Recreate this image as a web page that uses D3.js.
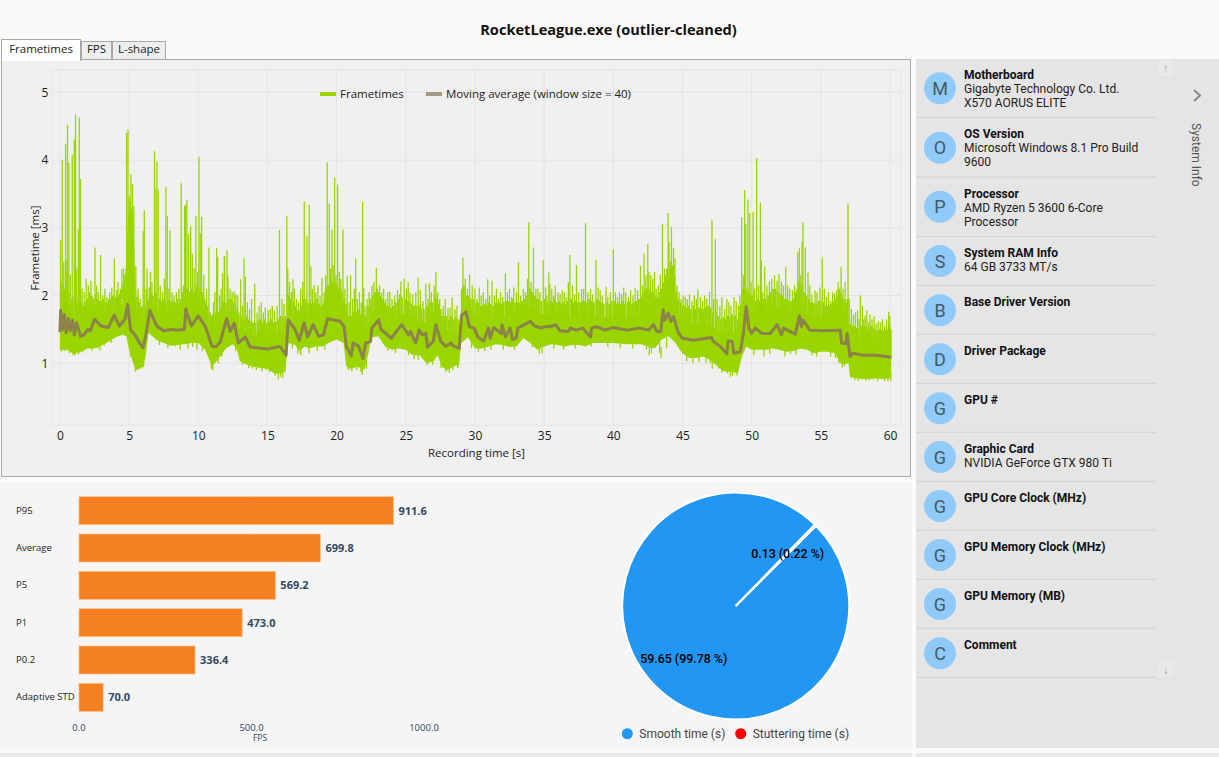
<!DOCTYPE html>
<html>
<head>
<meta charset="utf-8">
<script src="https://cdn.jsdelivr.net/npm/d3@7"></script>
<style>
body { margin: 0; background: #fafafa; overflow: hidden; }
text { font-family: "Open Sans", sans-serif; }
.rb text, text.rb { font-family: Roboto, sans-serif; }
</style>
</head>
<body>
<div id="chart"></div>
<script>
// frametime chart: dense band
var bandTimes = [0,0.5,1,1.5,2,2.5,3,3.5,4,4.5,4.8,5,5.3,5.5,6,6.2,6.4,7,7.5,8,8.5,9,9.5,10,10.5,11,11.5,12,12.5,12.8,13,13.5,14,14.5,15,15.5,16,16.3,16.5,17,17.3,17.7,18,18.5,19,19.4,20,20.5,20.7,21,21.5,22,22.3,22.5,23,23.5,24,24.5,25,25.5,26,26.5,27,27.3,27.6,28,28.5,28.85,29,29.5,30,30.5,31,31.5,32,32.5,33,33.5,34,34.5,35,35.5,36,36.5,37,37.5,38,38.5,39,39.5,40,41,42,42.5,43,43.5,44,44.5,44.8,45,45.5,46,46.5,47,47.5,48,48.5,49,49.3,49.6,50,50.5,51,51.5,52,52.5,53,53.5,54,54.5,55,55.5,56,56.5,57,57.1,57.5,58,58.5,59,59.5,60.08];
var bandHigh = [2.1,1.9,1.72,1.68,1.72,1.8,1.74,1.72,1.78,1.85,2.5,3.5,3.1,1.8,1.62,1.85,1.95,1.8,1.74,1.72,1.76,2.0,1.92,1.95,1.72,1.5,1.52,1.75,1.76,1.62,1.48,1.46,1.42,1.44,1.45,1.44,1.46,1.45,1.8,1.66,1.56,1.76,1.68,1.72,1.64,2.0,1.95,1.8,1.66,1.44,1.5,1.45,1.6,1.75,1.8,1.72,1.62,1.72,1.72,1.66,1.62,1.6,1.74,1.7,1.52,1.46,1.46,1.42,1.85,1.82,1.72,1.66,1.64,1.68,1.68,1.7,1.68,1.75,1.85,1.76,1.72,1.72,1.72,1.68,1.66,1.66,1.7,1.7,1.68,1.68,1.66,1.66,1.7,1.74,1.72,1.85,2.25,2.0,1.68,1.62,1.58,1.58,1.58,1.6,1.48,1.44,1.46,1.44,1.5,1.8,1.76,1.72,1.76,1.85,1.8,1.7,1.72,1.9,1.72,1.68,1.7,1.65,1.72,1.75,1.55,1.38,1.34,1.34,1.33,1.32,1.32,1.34];
var bandLow = [1.2,1.2,1.14,1.17,1.22,1.22,1.26,1.32,1.38,1.42,1.4,1.2,1.0,0.9,0.95,1.1,1.45,1.34,1.3,1.26,1.27,1.28,1.3,1.3,1.2,0.95,1.08,1.22,1.28,1.2,1.03,0.98,0.95,0.93,0.92,0.85,0.85,0.9,1.3,1.27,1.18,1.25,1.22,1.25,1.25,1.3,1.35,1.3,0.95,0.92,0.95,0.9,1.15,1.38,1.4,1.25,1.2,1.22,1.2,1.12,1.12,1.0,1.03,1.12,0.95,0.9,0.96,0.97,1.3,1.38,1.22,1.22,1.25,1.28,1.27,1.24,1.25,1.37,1.3,1.2,1.25,1.28,1.27,1.25,1.27,1.27,1.25,1.3,1.3,1.3,1.3,1.28,1.28,1.25,1.22,1.35,1.4,1.3,1.2,1.15,1.08,1.08,1.1,1.05,0.96,0.88,0.88,0.85,1.1,1.25,1.2,1.2,1.2,1.22,1.2,1.17,1.18,1.22,1.2,1.15,1.17,1.17,1.15,0.98,1.0,0.8,0.78,0.77,0.77,0.78,0.77,0.78];

// tall isolated frametime spikes [time, ms]
var tallSpikes = [[0.05,2.82],[0.17,4.0],[0.41,4.24],[0.5,2.53],[0.55,4.52],[0.65,3.96],[0.89,4.08],[1.04,4.3],[1.13,4.67],[1.33,2.97],[1.4,4.63],[1.49,3.72],[2.24,2.22],[2.53,2.71],[2.94,2.6],[3.93,2.55],[4.48,2.39],[4.82,4.4],[4.92,4.45],[5.13,3.79],[5.25,3.65],[5.35,3.32],[5.49,2.44],[6.02,2.95],[6.1,3.26],[6.84,4.13],[6.87,3.59],[7.01,3.98],[7.1,3.56],[7.66,3.6],[7.76,3.17],[7.95,2.96],[8.77,3.66],[9.01,3.32],[9.08,3.34],[9.18,3.41],[9.3,2.91],[9.45,3.02],[9.57,2.62],[9.83,3.18],[10.05,4.05],[10.14,2.92],[10.24,3.16],[10.77,2.71],[11.33,2.7],[11.4,2.57],[11.76,2.33],[11.88,2.58],[11.91,2.58],[12.08,2.67],[12.15,2.28],[12.6,2.06],[13.07,2.24],[13.31,2.55],[13.4,2.28],[14.08,2.18],[15.87,2.97],[16.4,3.18],[16.47,2.4],[16.84,2.24],[17.66,3.39],[17.85,2.88],[18.02,3.34],[18.14,2.43],[18.38,2.16],[18.94,2.26],[19.32,3.97],[19.47,3.36],[19.66,2.97],[19.86,3.74],[20.07,3.64],[20.2,2.35],[20.46,2.97],[20.77,2.29],[21.01,2.3],[21.38,2.55],[21.88,3.38],[21.96,2.11],[22.87,2.41],[23.84,2.06],[24.64,2.21],[24.88,2.25],[25.17,2.2],[25.72,2.05],[25.89,2.27],[26.45,2.17],[26.71,2.18],[27.17,2.35],[29.13,2.56],[29.61,2.31],[30.31,2.12],[30.92,2.24],[31.23,2.22],[32.2,2.33],[33.14,2.49],[33.89,3.08],[34.23,2.71],[34.93,2.53],[35.34,2.34],[35.41,2.17],[35.8,2.15],[36.86,2.6],[37.34,2.45],[37.99,3.07],[38.74,2.53],[39.47,2.13],[40.0,2.68],[40.75,2.12],[41.57,2.11],[41.96,2.44],[42.22,2.62],[42.49,2.76],[42.56,2.35],[42.98,2.35],[43.55,3.06],[43.96,3.22],[44.03,2.8],[44.2,3.01],[44.35,2.7],[44.45,2.55],[46.11,2.09],[47.13,3.12],[47.37,2.83],[49.28,3.16],[49.49,3.56],[49.57,3.06],[49.73,3.42],[49.86,3.22],[50.1,3.23],[50.36,4.03],[50.63,3.37],[50.7,2.52],[50.94,2.43],[51.28,2.21],[51.83,2.22],[51.98,2.32],[52.46,2.42],[53.33,2.64],[53.45,2.7],[53.64,2.79],[53.71,3.08],[53.88,2.71],[54.07,2.34],[54.58,2.08],[54.93,2.12],[55.1,2.55],[56.0,2.03],[56.46,2.42],[56.96,3.36],[57.85,2.0],[59.9,1.76]];

// short spikes that roughen the top of the band [time, ms]
var shortSpikes = [[0.28,2.5],[0.75,2.3],[1.22,2.4],[1.6,2.1],[1.75,2.05],[1.9,2.25],[2.05,2.15],[2.15,2.05],[2.35,2.0],[2.65,2.15],[2.78,2.05],[3.1,2.0],[3.25,2.1],[3.4,1.98],[3.6,2.05],[3.75,2.12],[4.1,2.08],[4.2,2.2],[4.3,2.02],[4.6,2.4],[5.65,2.1],[5.8,1.95],[6.3,2.4],[6.55,2.35],[6.65,2.2],[7.25,2.15],[7.4,2.05],[7.55,2.25],[7.88,2.1],[8.1,2.05],[8.25,2.0],[8.42,2.05],[8.6,2.1],[9.7,2.4],[9.95,2.35],[10.4,2.3],[10.6,2.1],[11.1,1.9],[11.2,2.05],[11.55,2.0],[11.65,2.1],[12.3,2.1],[12.45,2.05],[12.72,2.02],[12.85,2.0],[13.2,1.85],[13.55,1.9],[13.7,1.8],[13.85,1.95],[14.25,1.75],[14.4,1.85],[14.55,1.9],[14.7,1.75],[14.85,1.82],[15.05,1.78],[15.2,1.8],[15.35,1.85],[15.5,1.78],[15.7,1.85],[16.05,1.95],[16.2,1.88],[16.6,2.2],[16.75,2.05],[16.95,2.1],[17.1,1.95],[17.25,1.9],[17.4,2.1],[17.55,2.2],[18.25,2.1],[18.5,2.05],[18.65,2.15],[18.8,2.0],[19.1,2.05],[19.2,2.3],[19.55,2.4],[19.75,2.45],[19.95,2.3],[20.3,2.25],[20.6,2.1],[20.9,1.9],[21.15,1.95],[21.28,2.1],[21.5,1.95],[21.65,2.05],[21.78,1.9],[22.05,1.85],[22.2,1.95],[22.35,2.05],[22.55,2.15],[22.7,2.2],[22.95,2.1],[23.1,2.15],[23.25,2.05],[23.4,2.1],[23.55,1.95],[23.7,2.05],[24.0,1.95],[24.2,2.0],[24.4,2.08],[24.55,2.02],[25.05,2.1],[25.3,2.05],[25.5,2.02],[26.05,2.08],[26.25,1.92],[26.6,1.95],[26.85,2.05],[27.05,2.15],[27.3,2.05],[27.45,1.95],[27.7,1.85],[27.85,1.95],[28.05,1.82],[28.2,1.82],[28.35,1.97],[28.55,1.8],[28.7,1.85],[29.3,2.25],[29.45,2.1],[29.8,2.15],[30.0,2.1],[30.15,1.95],[30.45,2.0],[30.6,2.05],[30.78,1.95],[31.05,2.0],[31.4,2.0],[31.55,2.1],[31.7,1.95],[31.85,2.05],[32.0,1.98],[32.35,2.05],[32.5,2.1],[32.65,1.98],[32.8,2.12],[33.0,2.05],[33.3,2.0],[33.5,2.1],[33.65,2.05],[33.8,2.25],[34.05,2.2],[34.4,2.1],[34.55,2.1],[34.7,2.05],[35.1,2.12],[35.2,2.0],[35.55,2.1],[35.68,2.0],[36.0,2.05],[36.15,2.02],[36.3,2.08],[36.45,2.05],[36.6,1.98],[36.75,2.2],[37.05,2.15],[37.2,2.02],[37.5,2.05],[37.7,2.1],[37.85,2.1],[38.15,2.05],[38.35,2.1],[38.5,2.02],[38.9,2.12],[39.05,2.08],[39.2,2.0],[39.6,1.98],[39.78,2.05],[40.15,2.05],[40.3,1.98],[40.45,2.05],[40.6,2.02],[40.9,2.05],[41.1,1.98],[41.25,2.08],[41.42,2.0],[41.75,2.08],[42.1,2.15],[42.35,2.3],[42.7,2.3],[42.85,2.25],[43.1,2.1],[43.25,2.15],[43.4,2.3],[43.7,2.4],[44.6,2.15],[44.75,2.05],[44.9,1.95],[45.05,2.0],[45.2,1.98],[45.35,1.95],[45.5,2.02],[45.68,1.92],[45.85,2.0],[46.0,1.95],[46.3,1.98],[46.45,1.92],[46.6,2.0],[46.75,1.95],[46.95,2.05],[47.25,1.95],[47.5,1.95],[47.7,1.85],[47.85,1.98],[48.05,1.8],[48.2,1.95],[48.35,1.9],[48.5,1.85],[48.72,1.98],[48.88,1.92],[49.05,1.85],[49.15,2.0],[49.4,2.3],[49.95,2.2],[50.2,2.1],[50.5,2.15],[50.8,2.05],[51.1,2.15],[51.45,2.25],[51.65,2.3],[52.15,2.2],[52.3,2.15],[52.6,2.15],[52.75,2.1],[52.95,2.08],[53.1,2.15],[53.55,2.3],[54.2,2.15],[54.35,2.02],[54.72,2.05],[55.25,2.1],[55.4,1.98],[55.55,2.05],[55.7,1.92],[55.85,2.05],[56.15,2.08],[56.25,2.2],[56.35,2.1],[56.6,2.1],[56.75,2.2],[57.05,1.95],[57.2,1.8],[57.35,1.72],[57.5,1.75],[57.65,1.78],[57.75,1.65],[58.0,1.85],[58.1,1.65],[58.2,1.7],[58.32,1.78],[58.45,1.6],[58.55,1.72],[58.7,1.65],[58.85,1.7],[59.0,1.58],[59.15,1.62],[59.3,1.6],[59.45,1.65],[59.6,1.55],[59.75,1.65],[60.0,1.7]];

// low fringe just above the solid band [time, ms]
var fringeSpikes = [[0.08,2.2],[0.22,2.15],[0.36,2.1],[0.48,2.15],[0.62,2.05],[0.8,1.95],[0.93,1.98],[1.08,1.9],[1.18,1.95],[1.27,1.85],[1.45,1.88],[1.55,1.9],[1.7,1.85],[1.82,1.9],[1.97,1.95],[2.1,1.95],[2.28,2.0],[2.42,1.95],[2.6,2.02],[2.72,1.95],[2.85,1.92],[3.02,1.92],[3.15,1.95],[3.32,1.9],[3.46,1.9],[3.55,1.95],[3.68,1.95],[3.83,2.0],[4.02,1.98],[4.15,2.0],[4.25,1.98],[4.38,2.1],[4.52,2.15],[4.68,2.3],[5.58,1.98],[5.72,1.9],[5.88,1.82],[5.95,1.85],[6.25,2.1],[6.48,2.12],[6.6,2.05],[6.72,2.0],[6.95,2.05],[7.18,1.95],[7.32,1.92],[7.47,1.95],[7.62,1.9],[7.8,1.95],[7.92,1.92],[8.05,1.9],[8.18,1.92],[8.33,1.9],[8.48,1.95],[8.55,1.9],[8.68,1.95],[8.85,2.05],[8.95,2.15],[9.12,2.1],[9.25,2.1],[9.38,2.05],[9.52,2.1],[9.65,2.05],[9.78,2.1],[9.9,2.15],[10.1,2.1],[10.3,2.05],[10.45,1.95],[10.55,1.9],[10.68,1.85],[10.85,1.75],[10.98,1.7],[11.05,1.72],[11.25,1.75],[11.45,1.75],[11.6,1.8],[11.72,1.85],[11.82,1.9],[11.98,1.9],[12.2,1.95],[12.38,1.95],[12.52,1.9],[12.65,1.88],[12.78,1.8],[12.92,1.75],[13.05,1.7],[13.15,1.65],[13.28,1.65],[13.45,1.7],[13.62,1.65],[13.78,1.62],[13.95,1.6],[14.12,1.6],[14.32,1.62],[14.48,1.65],[14.62,1.6],[14.78,1.65],[14.95,1.6],[15.12,1.62],[15.28,1.65],[15.42,1.6],[15.6,1.62],[15.78,1.65],[15.95,1.7],[16.12,1.68],[16.28,1.7],[16.55,2.0],[16.68,1.95],[16.9,1.9],[17.02,1.85],[17.18,1.78],[17.32,1.78],[17.47,1.85],[17.6,1.95],[17.75,1.95],[17.92,1.9],[18.08,1.9],[18.2,1.88],[18.32,1.9],[18.45,1.9],[18.58,1.95],[18.72,1.88],[18.88,1.85],[19.02,1.88],[19.15,1.95],[19.28,2.15],[19.42,2.15],[19.6,2.2],[19.72,2.2],[19.9,2.15],[20.02,2.15],[20.15,2.1],[20.28,2.1],[20.4,2.05],[20.55,1.95],[20.68,1.88],[20.82,1.7],[20.95,1.7],[21.08,1.7],[21.22,1.75],[21.35,1.75],[21.48,1.75],[21.6,1.8],[21.72,1.72],[21.92,1.7],[22.08,1.7],[22.25,1.85],[22.42,1.95],[22.6,2.0],[22.78,2.05],[22.92,2.0],[23.02,2.05],[23.18,2.0],[23.32,1.95],[23.48,1.9],[23.62,1.85],[23.78,1.85],[23.92,1.82],[24.08,1.85],[24.28,1.9],[24.48,1.95],[24.72,1.98],[24.95,1.95],[25.12,1.92],[25.25,1.92],[25.42,1.88],[25.6,1.85],[25.78,1.85],[25.95,1.85],[26.12,1.82],[26.3,1.8],[26.52,1.85],[26.65,1.85],[26.78,1.9],[26.92,1.9],[27.1,2.0],[27.22,1.95],[27.38,1.88],[27.52,1.8],[27.62,1.7],[27.78,1.7],[27.95,1.7],[28.12,1.65],[28.28,1.7],[28.45,1.65],[28.62,1.68],[28.8,1.65],[29.05,2.1],[29.2,2.15],[29.38,2.0],[29.52,2.0],[29.7,1.95],[29.88,1.95],[30.08,1.9],[30.22,1.9],[30.38,1.85],[30.52,1.85],[30.7,1.88],[30.85,1.85],[31.0,1.9],[31.12,1.88],[31.3,1.85],[31.48,1.9],[31.62,1.9],[31.78,1.9],[31.92,1.88],[32.08,1.9],[32.28,1.92],[32.42,1.92],[32.58,1.9],[32.72,1.95],[32.9,1.9],[33.08,1.9],[33.22,1.9],[33.4,1.92],[33.58,1.95],[33.72,2.0],[33.98,2.1],[34.12,2.05],[34.32,2.0],[34.48,1.95],[34.62,1.95],[34.8,1.92],[35.02,1.95],[35.25,1.9],[35.48,1.92],[35.62,1.9],[35.75,1.95],[35.92,1.9],[36.08,1.92],[36.22,1.88],[36.38,1.9],[36.52,1.88],[36.68,1.92],[36.95,1.95],[37.12,1.9],[37.28,1.92],[37.42,1.9],[37.6,1.9],[37.78,1.92],[37.92,1.92],[38.08,1.9],[38.25,1.95],[38.42,1.92],[38.6,1.9],[38.82,1.95],[38.98,1.92],[39.12,1.9],[39.3,1.88],[39.52,1.9],[39.7,1.88],[39.88,1.92],[40.08,1.92],[40.22,1.88],[40.38,1.9],[40.52,1.88],[40.68,1.92],[40.82,1.88],[41.02,1.9],[41.18,1.92],[41.35,1.88],[41.5,1.9],[41.65,1.92],[41.85,1.95],[42.02,1.98],[42.18,2.05],[42.3,2.1],[42.42,2.1],[42.62,2.1],[42.78,2.05],[42.92,2.05],[43.05,1.98],[43.18,1.98],[43.32,2.05],[43.48,2.1],[43.65,2.2],[43.78,2.3],[43.88,2.4],[44.12,2.5],[44.28,2.45],[44.42,2.3],[44.55,2.05],[44.68,1.95],[44.85,1.9],[44.98,1.85],[45.12,1.85],[45.28,1.82],[45.42,1.85],[45.6,1.8],[45.78,1.85],[45.92,1.8],[46.2,1.82],[46.38,1.8],[46.52,1.8],[46.68,1.82],[46.85,1.85],[47.02,1.82],[47.2,1.75],[47.42,1.75],[47.6,1.7],[47.78,1.65],[47.95,1.68],[48.12,1.65],[48.28,1.7],[48.42,1.68],[48.58,1.72],[48.8,1.7],[48.98,1.65],[49.1,1.75],[49.22,1.85],[49.35,2.1],[49.65,2.1],[49.78,2.05],[49.92,2.0],[50.05,2.0],[50.28,1.92],[50.42,1.95],[50.58,1.92],[50.75,1.92],[50.88,1.95],[51.02,1.95],[51.18,2.0],[51.35,2.05],[51.55,2.1],[51.72,2.1],[51.92,2.05],[52.08,2.02],[52.22,2.0],[52.38,1.95],[52.52,1.95],[52.68,1.92],[52.85,1.92],[53.02,1.95],[53.18,2.05],[53.28,2.1],[53.4,2.2],[53.58,2.15],[53.8,2.05],[53.95,2.0],[54.12,1.95],[54.28,1.9],[54.42,1.9],[54.52,1.88],[54.68,1.88],[54.82,1.92],[54.98,1.92],[55.18,1.9],[55.32,1.85],[55.48,1.85],[55.62,1.85],[55.78,1.88],[55.92,1.92],[56.08,1.95],[56.2,2.0],[56.3,1.98],[56.42,2.05],[56.52,1.98],[56.68,1.95],[56.82,1.9],[56.92,1.95],[57.15,1.58],[57.28,1.55],[57.42,1.55],[57.58,1.52],[57.72,1.5],[57.92,1.55],[58.05,1.52],[58.15,1.55],[58.28,1.55],[58.38,1.5],[58.5,1.52],[58.62,1.55],[58.78,1.52],[58.92,1.5],[59.08,1.48],[59.22,1.5],[59.38,1.5],[59.52,1.48],[59.68,1.5],[59.82,1.5],[59.95,1.55],[60.05,1.5]];

// short dips along the bottom of the band [time, ms]
var lowDips = [[0.12,1.17],[0.35,1.18],[0.7,1.15],[0.95,1.12],[1.1,1.12],[1.35,1.13],[1.65,1.16],[2.3,1.18],[2.75,1.22],[2.9,1.19],[3.2,1.26],[3.7,1.3],[5.1,1.1],[5.45,0.88],[5.62,0.9],[5.85,0.92],[6.05,0.94],[7.2,1.27],[7.8,1.23],[8.35,1.25],[8.7,1.2],[9.25,1.22],[9.6,1.24],[9.9,1.2],[10.3,1.18],[10.95,0.92],[11.05,0.9],[11.45,1.0],[11.7,1.1],[12.7,1.18],[13.2,0.98],[13.65,0.93],[13.9,0.92],[14.2,0.9],[14.6,0.88],[14.9,0.9],[15.15,0.87],[15.35,0.88],[15.55,0.82],[15.78,0.76],[15.95,0.8],[16.1,0.78],[16.25,0.86],[16.8,1.22],[17.2,1.14],[17.4,1.12],[18.0,1.15],[18.6,1.18],[19.15,1.2],[20.85,0.9],[21.1,0.88],[21.45,0.9],[21.75,0.87],[21.85,0.83],[22.15,0.92],[23.7,1.18],[24.25,1.15],[25.2,1.12],[25.6,1.06],[25.9,1.05],[26.55,0.97],[26.95,0.98],[27.55,0.93],[27.9,0.87],[28.15,0.86],[28.4,0.9],[28.75,0.93],[29.75,1.22],[30.25,1.17],[30.7,1.18],[31.15,1.2],[32.05,1.2],[32.85,1.2],[34.15,1.24],[34.65,1.14],[34.85,1.15],[35.7,1.22],[36.4,1.2],[37.25,1.22],[38.4,1.25],[39.6,1.24],[40.5,1.22],[41.4,1.22],[42.4,1.2],[42.6,1.12],[42.75,1.15],[43.35,1.15],[43.45,1.08],[43.85,1.22],[45.3,1.03],[45.75,1.0],[46.2,1.02],[46.7,1.0],[47.0,1.0],[47.15,0.92],[47.6,0.92],[47.85,0.86],[48.25,0.85],[48.45,0.8],[48.6,0.82],[48.95,0.82],[50.15,1.12],[50.9,1.1],[51.3,1.14],[52.4,1.1],[52.8,1.14],[53.2,1.13],[54.35,1.12],[54.7,1.1],[55.7,1.1],[56.05,1.08],[56.3,1.0],[56.55,0.94],[56.7,0.96],[57.2,0.78],[57.45,0.75],[57.7,0.74],[57.95,0.76],[58.25,0.74],[58.5,0.75],[58.8,0.76],[59.1,0.74],[59.35,0.77],[59.6,0.74],[59.85,0.73],[60.05,0.74]];

var avgTimes = [0,0.05,0.2,0.32,0.45,0.6,0.75,0.9,1.05,1.2,1.5,1.75,2.0,2.2,2.5,3.0,3.5,3.93,4.3,4.7,4.9,5.1,5.5,5.75,6.0,6.2,6.5,7.0,7.5,8.0,8.5,9.0,9.1,9.5,10.0,10.5,11.0,11.3,11.6,12.05,12.3,12.6,12.9,13.4,13.75,15.0,15.9,16.35,16.5,17.0,17.3,17.65,17.9,18.3,18.7,19.05,19.35,20.25,20.55,20.7,21.05,21.2,21.6,21.9,22.1,22.45,22.55,23.05,23.2,23.96,24.7,25.2,25.35,25.7,25.97,26.2,26.45,26.57,26.98,27.17,27.54,27.9,28.26,28.4,28.86,29.03,29.35,29.6,29.95,30.2,30.63,30.97,31.1,31.35,31.9,31.95,32.2,32.55,32.7,32.97,33.1,34.0,34.3,34.8,35.0,35.4,35.85,36.14,36.74,36.9,37.3,37.8,38.0,38.36,38.42,38.8,39.4,40.0,41.0,41.9,42.55,42.9,43.15,43.43,43.6,43.72,43.98,44.15,44.35,44.7,45.0,45.8,47.1,47.25,47.73,48.2,48.3,48.6,48.7,49.18,49.4,49.6,49.8,50.0,50.25,50.75,51.35,51.83,52.15,52.3,53.15,53.45,53.6,53.7,54.2,55.07,56.4,56.5,56.8,56.9,57.1,57.3,58.0,59.0,60.08];
var avgValues = [1.46,1.78,1.5,1.72,1.45,1.66,1.48,1.64,1.42,1.6,1.4,1.42,1.5,1.48,1.65,1.55,1.53,1.71,1.55,1.65,1.87,1.5,1.4,1.3,1.23,1.4,1.78,1.55,1.48,1.5,1.49,1.5,1.8,1.55,1.7,1.55,1.25,1.25,1.32,1.66,1.47,1.59,1.3,1.39,1.24,1.21,1.25,1.12,1.64,1.5,1.34,1.6,1.39,1.57,1.4,1.42,1.66,1.62,1.54,1.25,1.11,1.3,1.25,1.07,1.3,1.32,1.52,1.64,1.5,1.37,1.57,1.42,1.47,1.3,1.49,1.42,1.44,1.24,1.32,1.57,1.32,1.25,1.3,1.26,1.22,1.71,1.76,1.54,1.52,1.39,1.33,1.52,1.37,1.53,1.44,1.57,1.39,1.52,1.35,1.37,1.52,1.62,1.55,1.52,1.54,1.54,1.57,1.48,1.47,1.52,1.49,1.52,1.47,1.39,1.52,1.54,1.49,1.53,1.49,1.52,1.49,1.57,1.47,1.47,1.79,1.64,1.74,1.62,1.69,1.45,1.37,1.34,1.38,1.32,1.25,1.14,1.33,1.32,1.15,1.17,1.44,1.84,1.52,1.44,1.52,1.44,1.44,1.57,1.42,1.52,1.43,1.7,1.54,1.64,1.49,1.48,1.49,1.3,1.29,1.44,1.1,1.15,1.12,1.12,1.09];

var xTicks = [0,5,10,15,20,25,30,35,40,45,50,55,60];
var yTicks = [1,2,3,4,5];

// stat bars
var barNames = ['P95','Average','P5','P1','P0.2','Adaptive STD'];
var barValues = [911.6,699.8,569.2,473.0,336.4,70.0];
var barTicks = [0,500,1000];

// stutter pie
var pieNames = ['Smooth time (s)','Stuttering time (s)'];
var pieValues = [59.65,0.13];
var pieShares = [99.78,0.22];
var pieColors = ['#2196f3','#ff0000'];

// system info list
var infoTitles = ['Motherboard','OS Version','Processor','System RAM Info','Base Driver Version','Driver Package','GPU #','Graphic Card','GPU Core Clock (MHz)','GPU Memory Clock (MHz)','GPU Memory (MB)','Comment'];
var infoLines = [['Gigabyte Technology Co. Ltd.','X570 AORUS ELITE'],['Microsoft Windows 8.1 Pro Build','9600'],['AMD Ryzen 5 3600 6-Core','Processor'],['64 GB 3733 MT/s'],[],[],[],['NVIDIA GeForce GTX 980 Ti'],[],[],[],[]];
var infoCenters = [88.3,147.7,206.7,261,310.3,359.3,408.3,457,506,555,604,653.3];
var infoBottoms = [117.5,177,236.7,285.3,334.3,383.3,432.3,481.3,530.3,579.3,628.3,677.3];

var svg = d3.select('#chart').append('svg')
    .attr('width', 1219)
    .attr('height', 757);

// panels
svg.append('rect').attr('x', 0).attr('y', 482).attr('width', 912).attr('height', 266).attr('fill', '#f5f5f5');
svg.append('rect').attr('x', 0).attr('y', 753).attr('width', 912).attr('height', 4).attr('fill', '#e8e8e8');
svg.append('rect').attr('x', 916).attr('y', 59).attr('width', 303).attr('height', 689).attr('fill', '#e5e5e5');
svg.append('rect').attr('x', 916).attr('y', 753).attr('width', 303).attr('height', 4).attr('fill', '#e8e8e8');
svg.append('rect').attr('x', 1.5).attr('y', 59.5).attr('width', 909).attr('height', 417)
    .attr('fill', '#f0f0f0').attr('stroke', '#a8a8a8');

svg.append('text').attr('x', 608.5).attr('y', 35).attr('text-anchor', 'middle')
    .attr('font-size', 14.6).attr('font-weight', 700).attr('fill', '#111')
    .text('RocketLeague.exe (outlier-cleaned)');

// tabs
function tab(x, y, w, h, label, active) {
    svg.append('rect').attr('x', x).attr('y', y).attr('width', w).attr('height', h)
        .attr('fill', active ? '#ffffff' : '#eeeeee').attr('stroke', '#a8a8a8');
    svg.append('text').attr('x', x + w / 2).attr('y', 53).attr('text-anchor', 'middle')
        .attr('font-size', 11.5).attr('fill', '#222').text(label);
}
tab(81.5, 41.5, 30, 18, 'FPS', false);
tab(112.5, 41.5, 53, 18, 'L-shape', false);
tab(1.5, 39.5, 79, 21, 'Frametimes', true);
svg.append('rect').attr('x', 2).attr('y', 58).attr('width', 78).attr('height', 3).attr('fill', '#fff');

// frametime chart
var plot = {l: 52.3, r: 900.7, t: 70, b: 425.3};
var x = d3.scaleLinear().domain([-0.55, 60.77]).range([plot.l, plot.r]);
var y = d3.scaleLinear().domain([0.085, 5.33]).range([plot.b, plot.t]);

svg.append('rect').attr('x', plot.l).attr('y', plot.t)
    .attr('width', plot.r - plot.l).attr('height', plot.b - plot.t)
    .attr('fill', 'none').attr('stroke', '#e4e4e4');

svg.append('g').selectAll('line').data(xTicks).enter().append('line')
    .attr('x1', function(d) { return x(d); }).attr('x2', function(d) { return x(d); })
    .attr('y1', plot.t).attr('y2', plot.b).attr('stroke', '#e4e4e4');
svg.append('g').selectAll('line').data(yTicks).enter().append('line')
    .attr('x1', plot.l).attr('x2', plot.r)
    .attr('y1', function(d) { return y(d); }).attr('y2', function(d) { return y(d); })
    .attr('stroke', '#e4e4e4');

var green = '#9bd500';
var band = d3.area()
    .x(function(d, i) { return x(bandTimes[i]); })
    .y0(function(d, i) { return y(bandLow[i]); })
    .y1(function(d, i) { return y(bandHigh[i]); });
svg.append('path').datum(bandTimes).attr('d', band).attr('fill', green);

// spikes start inside the band at their own time
function bandMid(t) {
    var i = Math.min(d3.bisectLeft(bandTimes, t), bandTimes.length - 1);
    return (bandHigh[i] + bandLow[i]) / 2;
}

// spikes keep fractional x so they blur like the original thin line
function spikes(data, width, op) {
    svg.append('g').selectAll('line').data(data).enter().append('line')
        .attr('x1', function(d) { return x(d[0]); }).attr('x2', function(d) { return x(d[0]); })
        .attr('y1', function(d) { return y(bandMid(d[0])); }).attr('y2', function(d) { return y(d[1]); })
        .attr('stroke', green).attr('stroke-width', width).attr('stroke-opacity', op);
}
spikes(fringeSpikes, 1.9, 1);
spikes(shortSpikes, 1.3, 1);
spikes(tallSpikes, 1.3, 1);

svg.append('g').selectAll('line').data(lowDips).enter().append('line')
    .attr('x1', function(d) { return x(d[0]); }).attr('x2', function(d) { return x(d[0]); })
    .attr('y1', function(d) { return y(d[1] + 0.16); }).attr('y2', function(d) { return y(d[1]); })
    .attr('stroke', green).attr('stroke-width', 1.3);

var avgLine = d3.line()
    .x(function(d) { return x(d); })
    .y(function(d, i) { return y(avgValues[i]); });
svg.append('path').datum(avgTimes).attr('d', avgLine)
    .attr('fill', 'none').attr('stroke', '#8b7d4e').attr('stroke-width', 3)
    .attr('stroke-linejoin', 'round').attr('stroke-opacity', 0.95);

var xAxis = svg.append('g').attr('transform', 'translate(0,' + plot.b + ')')
    .call(d3.axisBottom(x).tickValues(xTicks).tickSize(0).tickPadding(6));
var yAxis = svg.append('g').attr('transform', 'translate(' + (plot.l - 4) + ',0)')
    .call(d3.axisLeft(y).tickValues(yTicks).tickFormat(d3.format('d')).tickSize(0).tickPadding(0));
[xAxis, yAxis].forEach(function(a) {
    a.select('.domain').remove();
    a.selectAll('text').attr('font-size', 12).attr('font-family', '"Open Sans", sans-serif').attr('fill', '#222');
});

svg.append('text').attr('x', 476.5).attr('y', 457).attr('text-anchor', 'middle')
    .attr('font-size', 11.5).attr('fill', '#222').text('Recording time [s]');
svg.append('text').attr('transform', 'translate(39,248) rotate(-90)').attr('text-anchor', 'middle')
    .attr('font-size', 11.5).attr('fill', '#222').text('Frametime [ms]');

// chart legend
svg.append('rect').attr('x', 320).attr('y', 92).attr('width', 16).attr('height', 4).attr('fill', green);
svg.append('text').attr('x', 340).attr('y', 98).attr('font-size', 11.5).attr('fill', '#222').text('Frametimes');
svg.append('rect').attr('x', 426).attr('y', 92).attr('width', 16).attr('height', 4).attr('fill', '#a09b85');
svg.append('text').attr('x', 446).attr('y', 98).attr('font-size', 11.5).attr('fill', '#222').text('Moving average (window size = 40)');

// stat bars
var barX = d3.scaleLinear().domain([0, 1000]).range([79, 424]);
var barY = d3.scaleBand().domain(barNames).range([492, 716]).paddingInner(0.25).paddingOuter(0.125);

svg.append('g').selectAll('line').data(barTicks).enter().append('line')
    .attr('x1', function(d) { return barX(d); }).attr('x2', function(d) { return barX(d); })
    .attr('y1', 490).attr('y2', 718)
    .attr('stroke', '#eeeeee').attr('stroke-dasharray', '1,1');

svg.append('g').selectAll('rect').data(barValues).enter().append('rect')
    .attr('x', barX(0))
    .attr('y', function(d, i) { return barY(barNames[i]); })
    .attr('width', function(d) { return barX(d) - barX(0); })
    .attr('height', barY.bandwidth())
    .attr('fill', '#f58020')
    .attr('stroke', '#f9c08a').attr('stroke-width', 0.7);

svg.append('g').selectAll('text').data(barValues).enter().append('text')
    .attr('x', function(d) { return barX(d) + 5; })
    .attr('y', function(d, i) { return barY(barNames[i]) + barY.bandwidth() / 2 + 4; })
    .attr('font-size', 11).attr('font-weight', 700).attr('fill', '#34495e')
    .text(function(d) { return d.toFixed(1); });

svg.append('g').selectAll('text').data(barNames).enter().append('text')
    .attr('x', 16)
    .attr('y', function(d) { return barY(d) + barY.bandwidth() / 2 + 3; })
    .attr('font-size', 9.5).attr('fill', '#222')
    .text(function(d) { return d; });

svg.append('g').selectAll('text').data(barTicks).enter().append('text')
    .attr('x', function(d) { return barX(d); }).attr('y', 730.5)
    .attr('text-anchor', 'middle').attr('font-size', 9.5).attr('fill', '#34495e')
    .text(function(d) { return d.toFixed(1); });
svg.append('text').attr('x', 260).attr('y', 741).attr('text-anchor', 'middle')
    .attr('font-size', 8.5).attr('fill', '#34495e').text('FPS');

// stutter pie
var pie = d3.pie().sort(null).startAngle(Math.PI / 4).endAngle(Math.PI / 4 + 2 * Math.PI);
var arc = d3.arc().innerRadius(0).outerRadius(113.5);
var labelArc = d3.arc().innerRadius(74).outerRadius(74);
var pieG = svg.append('g').attr('class', 'rb').attr('transform', 'translate(735.7,606)');

pieG.selectAll('path').data(pie(pieValues)).enter().append('path')
    .attr('d', arc)
    .attr('fill', function(d, i) { return pieColors[i]; })
    .attr('stroke', '#ffffff').attr('stroke-width', 2);

pieG.selectAll('text').data(pie(pieValues)).enter().append('text')
    .attr('transform', function(d) { return 'translate(' + labelArc.centroid(d) + ')'; })
    .attr('dy', '0.35em').attr('text-anchor', 'middle')
    .attr('font-size', 12.4).attr('font-weight', 500).attr('fill', '#000')
    .text(function(d, i) { return pieValues[i].toFixed(2) + ' (' + pieShares[i].toFixed(2) + ' %)'; });

var pieLegend = svg.append('g').attr('class', 'rb');
[627.3, 740.7].forEach(function(cx, i) {
    pieLegend.append('circle').attr('cx', cx).attr('cy', 733.7).attr('r', 6)
        .attr('fill', pieColors[i]).attr('stroke', '#fff');
    pieLegend.append('text').attr('x', cx + 12).attr('y', 738)
        .attr('font-size', 12).attr('fill', '#444').text(pieNames[i]);
});

// system info list
var info = svg.append('g').attr('class', 'rb');
infoTitles.forEach(function(title, i) {
    var cy = infoCenters[i];
    var top = i == 0 ? 58 : infoBottoms[i - 1];
    info.append('circle').attr('cx', 940).attr('cy', cy).attr('r', 16).attr('fill', '#90caf9');
    info.append('text').attr('x', 940).attr('y', cy + 6.5).attr('text-anchor', 'middle')
        .attr('font-size', 18).attr('fill', '#455a64').text(title[0]);
    var ty = top + 20.7;
    info.append('text').attr('x', 964).attr('y', ty)
        .attr('font-size', 12).attr('font-weight', 700).attr('fill', '#111').text(title);
    infoLines[i].forEach(function(line, j) {
        info.append('text').attr('x', 964).attr('y', ty + 14 * (j + 1))
            .attr('font-size', 12).attr('fill', '#222').text(line);
    });
    info.append('line').attr('x1', 916).attr('x2', 1156)
        .attr('y1', infoBottoms[i]).attr('y2', infoBottoms[i])
        .attr('stroke', '#d2d2d2');
});

// scroll arrows and side tab
[[1158, 60, '\u2191', 72.5], [1158, 661, '\u2193', 673.5]].forEach(function(b) {
    info.append('rect').attr('x', b[0]).attr('y', b[1]).attr('width', 15).attr('height', 16).attr('fill', '#e9e9e9');
    info.append('text').attr('x', b[0] + 7.5).attr('y', b[3]).attr('text-anchor', 'middle')
        .attr('font-size', 12).attr('fill', '#aaa').text(b[2]);
});
info.append('path').attr('d', 'M1194 90 L1200 95.5 L1194 101').attr('fill', 'none')
    .attr('stroke', '#888').attr('stroke-width', 2);
info.append('text').attr('transform', 'translate(1192,123) rotate(90)')
    .attr('font-size', 12).attr('fill', '#555').text('System Info');
</script>
</body>
</html>
